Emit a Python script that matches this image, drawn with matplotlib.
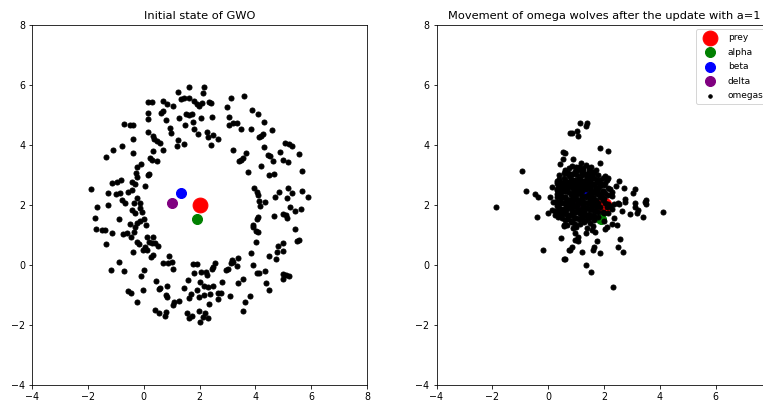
import matplotlib.pyplot as plt

plt.rcParams.update({'font.size': 9.5})

# leaders (same spot in both panels)
prey_x, prey_y = [2.0], [2.0]
alpha_x, alpha_y = [1.91], [1.53]
beta_x, beta_y = [1.33], [2.41]
delta_x, delta_y = [1.01], [2.08]

# initial omega wolves (ring round the prey)
ring_x = [1.22, 1.61, 2.16, 0.14, 0.29, 0.68, 0.85, 1.06, 1.32, 1.44,
          1.62, 1.79, 1.92, 1.98, 2.10, 0.14, 0.62, 0.68, 1.28, 1.52,
          1.63, 1.74, 2.06, 0.17, 0.80, 1.75, 0.94, 1.48, 1.81, 1.95,
          -0.69, -0.49, -0.39, 0.14, 0.97, 0.32, 0.37, 0.49, 0.58, 1.24,
          1.21, 1.43, -0.39, -0.77, -1.09, -1.35, -0.37, 0.32, 0.68, 0.23,
          0.29, 0.48, -0.11, -0.25, -0.29, -0.25, 0.14, 0.20, -0.82, -0.94,
          -1.15, -0.43, -0.31, 0.06, -1.90, -1.28, -0.99, -0.85, -0.55, -0.42,
          -0.23, -0.79, -0.67, -0.33, -0.13,
          2.11, 2.35, 2.40, 2.44, 2.28, 2.32, 2.49, 2.40, 2.67, 3.13,
          3.60, 2.97, 3.87, 4.11, 3.06, 3.07, 3.21, 3.35, 3.47, 3.84,
          4.31, 4.58, 4.19, 4.29, 4.14, 4.32, 3.21, 3.66, 3.57, 3.47,
          3.41, 4.44, 4.52, 4.62, 4.88, 5.06, 5.20, 5.32, 5.00, 5.18,
          5.58, 4.19, 3.75, 4.50, 4.67, 5.68, 3.96, 4.05, 4.11, 4.14,
          4.35, 4.70, 4.86, 5.18, 5.30, 5.12, 5.66, 5.90,
          -1.68, -1.27, -0.43, -0.31, -0.13, -0.07, -1.74, -0.87, -0.49, -0.23,
          -0.13, 0.01, 0.08, -0.31, -1.71, -1.50, -1.39, -1.15, -0.73, -0.61,
          -0.47, -0.35, -1.35, -0.25, -0.16, 0.11, 0.32, 0.20, 0.29, 0.41,
          0.52, 0.05, -0.01, 0.11, -0.39, 0.25, 0.32, 0.92, 0.70, 0.88,
          1.00, 1.06, -0.88, -1.17, -0.69, 0.02, -0.10, 1.75, 1.92, 1.81,
          2.04, 1.60, 2.02, 0.44, 0.58, 0.54, 0.82, 1.44, 1.90, 1.68,
          1.63, 1.99, -0.57, -0.45, -0.01, -0.25, 0.80, 0.82, 1.09, 1.28,
          1.06, 0.41, 0.54, 0.80, 0.76, 1.54, 1.72, 1.99, 2.14, 2.02, 1.63,
          4.17, 5.24, 5.42, 5.62, 4.98, 5.10, 5.14, 4.67,
          4.11, 4.05, 3.93, 3.90, 4.02, 4.11, 5.42, 4.02, 5.48, 5.58,
          3.83, 4.82, 5.00, 4.79, 5.00, 4.50, 4.74, 2.55, 2.49, 2.43,
          3.15, 3.12, 3.21, 3.39, 3.03, 2.95, 3.33, 3.93, 4.05, 4.14,
          4.35, 4.98, 5.10, 5.22, 4.98, 2.23, 2.28, 2.16, 2.32, 2.47,
          2.82, 3.39, 3.55, 4.38, 4.50, 2.67, 2.76, 3.09, 2.16, 2.37,
          3.81, 3.63, 3.57, 2.35, 2.20, 2.32, 2.67]
ring_y = [5.78, 5.92, 5.94, 5.42, 5.42, 5.47, 5.36, 5.30, 5.53, 5.56,
          5.58, 5.47, 5.36, 5.31, 5.39, 5.08, 5.08, 5.13, 4.89, 5.02,
          5.00, 5.02, 4.89, 4.86, 4.83, 4.76, 4.58, 4.67, 4.53, 4.37,
          4.70, 4.67, 4.67, 4.44, 4.41, 4.30, 4.20, 4.13, 4.06, 4.17,
          3.98, 4.03, 4.19, 3.98, 3.82, 3.59, 3.73, 3.80, 3.82, 3.56,
          3.50, 3.48, 3.36, 3.28, 3.06, 2.92, 3.00, 3.04, 2.82, 2.76,
          2.72, 2.78, 2.69, 2.63, 2.52, 2.39, 2.37, 2.41, 2.44, 2.50,
          2.22, 2.17, 2.08, 2.06, 2.06,
          5.72, 5.44, 5.39, 4.94, 4.44, 4.28, 4.33, 4.00, 4.20, 5.58,
          5.64, 5.28, 5.17, 5.02, 4.94, 4.67, 4.72, 4.74, 4.52, 4.53,
          4.76, 4.50, 4.31, 4.37, 4.26, 3.94, 3.83, 3.72, 3.58, 3.50,
          3.47, 3.67, 3.63, 3.47, 3.76, 4.06, 4.02, 3.98, 3.50, 3.42,
          3.69, 3.31, 3.11, 3.00, 3.03, 3.14, 2.56, 2.44, 2.33, 2.13,
          2.09, 2.28, 2.42, 2.58, 2.39, 2.22, 2.47, 2.28,
          1.92, 2.00, 1.83, 1.72, 1.89, 1.78, 1.56, 1.52, 1.36, 1.41,
          1.48, 1.52, 1.33, 1.28, 1.19, 1.17, 1.17, 1.08, 1.02, 1.06,
          0.92, 1.11, 0.70, 0.78, 0.70, 0.94, 0.94, 0.78, 0.72, 0.74,
          0.63, 0.61, 0.50, 0.50, 0.44, 0.26, 0.33, 0.31, 0.06, 0.08,
          0.11, -0.13, 0.11, -0.17, -0.20, -0.17, -0.37, 0.03, 0.02, -0.28,
          -0.22, -0.50, -0.56, -0.53, -0.78, -0.81, -0.70, -0.78, -0.83, -0.97,
          -1.11, -1.06, -0.86, -0.92, -0.83, -1.24, -1.00, -1.08, -1.24, -1.20,
          -1.33, -1.50, -1.59, -1.56, -1.70, -1.61, -1.70, -1.52, -1.74, -1.89, -1.78,
          1.97, 1.92, 1.81, 1.86, 1.70, 1.67, 1.56, 1.64,
          1.61, 1.52, 1.33, 1.26, 1.14, 1.11, 1.20, 0.78, 0.81, 0.83,
          0.41, 0.64, 0.72, 0.42, 0.48, 0.30, 0.20, 0.06, -0.06, -0.14,
          0.17, 0.08, 0.11, 0.22, -0.14, -0.17, -0.03, 0.00, -0.28, -0.28,
          -0.19, -0.30, -0.33, -0.37, -0.48, -0.22, -0.33, -0.70, -0.72, -0.70,
          -0.56, -0.61, -0.48, -0.59, -0.83, -0.92, -0.92, -1.02, -1.00, -0.98,
          -1.02, -1.22, -1.53, -1.30, -1.61, -1.78, -1.14]

# omega wolves after the update, scattered ones
moved_x = [0.78, 0.54, 0.54, 0.42, -0.95, 0.69, -0.81, -0.47, -0.38, 0.07,
           0.13, 0.33, 0.42, 0.48, 0.66, 0.33, 0.24, 0.60, 0.42, 0.66,
           1.14, 1.38, 1.35, 0.84, 1.02, 1.06, 1.86, 2.13, 0.60, 0.90,
           1.17, 1.86, 1.08, 1.26, 1.50, 1.62, 1.20, 0.72, 2.03, 2.13,
           2.09, 2.55, 2.42, 2.73, 3.11, 3.05, 2.15, 2.27, 2.75, 2.51,
           3.50, 3.11,
           -1.88, -0.41, 0.00, 0.13, 0.24, 0.33, 0.18, 0.48, 0.60, 0.66,
           0.58, 0.45, -0.20, 0.58, 0.75,
           2.55, 2.75, 3.11, 3.23, 3.50, 3.47, 3.17, 3.41, 4.12, 2.93,
           2.66, 2.27, 2.37, 2.45, 2.27, 2.09, 2.03, 2.57, 2.51, 2.69,
           1.86, 1.74, 1.65, 1.62, 1.20, 0.86, 0.78, 0.60, 1.34, 1.52,
           2.33, 0.96, 1.06, 1.34, 1.68, 0.90, 0.96, 1.08, 1.38, 1.56,
           0.66, 0.84]
moved_y = [4.39, 3.76, 3.53, 3.36, 3.13, 3.06, 2.47, 2.37, 2.26, 2.28,
           2.59, 2.72, 2.78, 2.56, 2.67, 2.50, 2.11, 2.22, 2.11, 2.06,
           4.72, 4.72, 4.64, 4.41, 4.48, 4.30, 3.89, 3.81, 3.74, 3.52,
           3.41, 3.41, 3.17, 3.17, 3.11, 3.11, 3.00, 3.06, 2.98, 2.89,
           2.83, 2.80, 2.63, 2.56, 2.53, 2.41, 2.56, 2.44, 2.19, 2.06,
           2.17, 2.06,
           1.94, 1.59, 1.72, 1.83, 1.67, 2.06, 2.11, 1.72, 1.83, 1.67,
           1.31, 0.91, 0.50, 0.20, 0.50,
           2.03, 2.11, 1.94, 1.83, 2.03, 2.11, 1.72, 1.59, 1.78, 1.70,
           1.81, 1.86, 1.56, 1.33, 1.37, 1.28, 1.19, 0.86, 0.59, 0.44,
           0.39, 0.81, 0.59, 0.50, 0.44, 0.61, 0.50, 0.19, 0.00, -0.24,
           -0.74, 0.83, 0.81, 1.06, 1.11, 1.22, 1.06, 0.94, 1.22, 1.17,
           1.33, 1.44]

# omega wolves after the update, dense middle of the pack
core_x = [0.85, 1.10, 1.35, 1.55,
          0.60, 0.95, 1.20, 1.45, 1.70,
          0.40, 0.75, 0.90, 1.05, 1.30, 1.55, 1.80,
          0.55, 1.15, 1.40, 1.65, 1.95,
          0.30, 0.70, 0.85, 1.00, 1.25, 1.50, 1.75,
          0.50, 0.95, 1.10, 1.35, 1.60, 1.90, 2.05,
          0.65, 0.80, 1.20, 1.45, 1.70, 1.85,
          0.40, 0.55, 0.90, 1.05, 1.55, 1.95, 2.20,
          0.30, 0.70, 0.85, 1.10, 1.45, 1.65, 1.80, 2.05,
          0.45, 0.60, 0.95, 1.20, 1.35, 1.60, 1.90, 2.30,
          0.75, 0.90, 1.05, 1.50, 1.70, 2.00,
          0.35, 0.55, 1.15, 1.30, 1.45, 1.80,
          0.65, 0.85, 1.00, 1.60, 1.75, 2.35,
          0.40, 0.55, 0.75, 1.20, 1.40, 1.55, 2.10,
          0.25, 0.90, 1.05, 1.30, 1.70, 1.95,
          0.50, 0.70, 0.85, 1.15, 1.45, 1.60, 2.15,
          0.35, 1.00, 1.25, 1.50, 1.80,
          0.60, 0.80, 1.10, 1.35, 1.65, 2.00,
          0.95, 1.50,
          1.00, 1.60]
core_y = [3.31, 3.27, 3.33, 3.28,
          3.16, 3.13, 3.18, 3.14, 3.17,
          3.01, 2.98, 3.03, 2.99, 3.02, 2.97, 3.01,
          2.91, 2.88, 2.92, 2.89, 2.91,
          2.81, 2.78, 2.82, 2.79, 2.81, 2.78, 2.82,
          2.71, 2.69, 2.72, 2.68, 2.71, 2.70, 2.73,
          2.58, 2.62, 2.59, 2.61, 2.58, 2.62,
          2.51, 2.48, 2.52, 2.49, 2.51, 2.48, 2.52,
          2.38, 2.42, 2.39, 2.41, 2.38, 2.42, 2.39, 2.41,
          2.31, 2.28, 2.32, 2.29, 2.31, 2.28, 2.32, 2.29,
          2.18, 2.22, 2.19, 2.21, 2.18, 2.22,
          2.11, 2.08, 2.12, 2.09, 2.11, 2.08,
          1.98, 2.02, 1.99, 2.01, 1.98, 2.02,
          1.91, 1.88, 1.92, 1.89, 1.91, 1.88, 1.92,
          1.81, 1.78, 1.82, 1.79, 1.81, 1.78,
          1.71, 1.68, 1.72, 1.69, 1.71, 1.68, 1.72,
          1.61, 1.58, 1.62, 1.59, 1.61,
          1.51, 1.48, 1.52, 1.49, 1.51, 1.48,
          1.38, 1.39,
          1.28, 1.29]

# more of the packed middle, in between the ones above
fill_x = [0.75, 1.00, 1.25, 1.45,
          0.55, 0.80, 1.20, 1.40, 1.65,
          0.40, 0.60, 0.80, 0.95, 1.10, 1.35, 1.55, 1.85,
          0.40, 0.60, 0.80, 1.05, 1.25, 1.45, 1.70, 1.80,
          0.35, 0.50, 0.95, 1.05, 1.30, 1.55, 2.00,
          0.30, 0.70, 1.00, 1.15, 1.35, 1.70, 1.80,
          0.45, 0.60, 0.95, 1.20, 1.55, 1.95,
          0.35, 0.80, 1.05, 1.50, 1.75, 2.15,
          0.30, 0.45, 0.60, 1.20, 1.35, 1.60, 1.85,
          0.70, 0.85, 1.00, 1.65, 1.95,
          0.45, 0.75, 1.10, 1.25, 1.40, 1.50, 2.05, 2.15,
          0.30, 0.90, 1.05, 1.30, 1.70, 1.85, 2.20,
          0.45, 0.65, 0.80, 1.15, 1.45, 1.60,
          0.35, 0.60, 1.00, 1.30, 1.80, 2.00,
          0.45, 0.75, 0.90, 1.35, 1.65,
          0.50, 0.70, 0.95, 1.20, 1.45,
          0.85, 1.30,
          0.55, 1.15]
fill_y = [3.24, 3.26, 3.23, 3.25,
          3.06, 3.04, 3.07, 3.05, 3.06,
          2.86, 2.84, 2.87, 2.85, 2.86, 2.84, 2.87, 2.85,
          2.74, 2.77, 2.75, 2.76, 2.74, 2.77, 2.75, 2.76,
          2.66, 2.64, 2.67, 2.65, 2.66, 2.64, 2.67,
          2.54, 2.57, 2.55, 2.56, 2.54, 2.57, 2.55,
          2.44, 2.47, 2.45, 2.46, 2.44, 2.47,
          2.37, 2.35, 2.36, 2.34, 2.37, 2.35,
          2.26, 2.24, 2.27, 2.25, 2.26, 2.24, 2.27,
          2.17, 2.15, 2.16, 2.14, 2.17,
          2.06, 2.04, 2.07, 2.05, 2.06, 2.04, 2.07, 2.05,
          1.96, 1.94, 1.97, 1.95, 1.96, 1.94, 1.97,
          1.86, 1.84, 1.87, 1.85, 1.86, 1.84,
          1.76, 1.74, 1.77, 1.75, 1.76, 1.74,
          1.64, 1.67, 1.65, 1.66, 1.64,
          1.56, 1.54, 1.57, 1.55, 1.56,
          1.44, 1.45,
          1.34, 1.37]

omega_x = moved_x + core_x + fill_x
omega_y = moved_y + core_y + fill_y

ticks = [-4, -2, 0, 2, 4, 6, 8]

fig = plt.figure(figsize=(763 / 72, 401 / 72), dpi=72)
ax1 = fig.add_axes([32 / 763, 16 / 401, 335 / 763, 360 / 401])
ax2 = fig.add_axes([436.5 / 763, 16 / 401, 335 / 763, 360 / 401])

ax1.scatter(ring_x, ring_y, c='black', s=25)
ax1.scatter(prey_x, prey_y, c='red', s=220)
ax1.scatter(alpha_x, alpha_y, c='green', s=100)
ax1.scatter(beta_x, beta_y, c='blue', s=100)
ax1.scatter(delta_x, delta_y, c='purple', s=100)
ax1.set_title('Initial state of GWO')

ax2.scatter(prey_x, prey_y, c='red', s=220, label='prey')
ax2.scatter(alpha_x, alpha_y, c='green', s=100, label='alpha')
ax2.scatter(beta_x, beta_y, c='blue', s=100, label='beta')
ax2.scatter(delta_x, delta_y, c='purple', s=100, label='delta')
ax2.scatter(omega_x, omega_y, c='black', s=25, label='omegas')
ax2.set_title('Movement of omega wolves after the update with a=1')
leg = ax2.legend(loc='upper right', fontsize=9, labelspacing=0.62,
                 handlelength=2.3)
leg.legend_handles[4].set_sizes([12])

for ax in (ax1, ax2):
    ax.set_xlim(-4, 8)
    ax.set_ylim(-4, 8)
    ax.set_xticks(ticks)
    ax.set_yticks(ticks)

fig.savefig('out.png', dpi=72)
